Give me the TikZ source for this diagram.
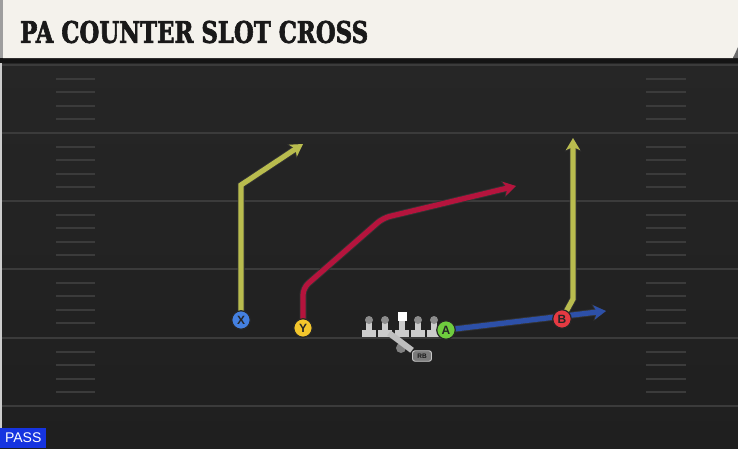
\documentclass[tikz,border=0pt]{standalone}
\usepackage{xcolor}
\usepackage{graphicx}
\usepackage{fontspec}
\newfontfamily\titlefont[FakeBold=2.5]{DejaVu Serif}
\newfontfamily\labelfont{Liberation Sans}
\definecolor{turf}{HTML}{262626}
\definecolor{turfdark}{HTML}{1F1F1F}
\definecolor{yardline}{HTML}{3B3B3B}
\definecolor{banner}{HTML}{F4F2EC}
\definecolor{routeolive}{HTML}{B9BC4E}
\definecolor{routecrimson}{HTML}{B5143D}
\definecolor{routeblue}{HTML}{2D50A8}
\definecolor{xblue}{HTML}{4480E0}
\definecolor{ygold}{HTML}{F3C62C}
\definecolor{agreen}{HTML}{6FCC3E}
\definecolor{bred}{HTML}{E53A42}
\definecolor{passblue}{HTML}{1634E0}
\usepackage{tikz}
\usetikzlibrary{arrows.meta, positioning}

\begin{document}
\begin{tikzpicture}[x=1pt, y=-1pt,
  player/.style={circle, draw=black!85, line width=1.2pt, minimum size=18.5pt, inner sep=0pt,
    font=\labelfont\bfseries\fontsize{12}{12}\selectfont, text=black!85},
  route/.style={line width=5.2pt, -{Stealth[length=12pt, width=14pt, inset=3pt]},
    preaction={draw=black!80, line width=7pt, -{Stealth[length=13.5pt, width=16.5pt, inset=3.5pt]}}},
  lineman/.style={fill=black!20},
  linehead/.style={fill=black!45}]
  \useasboundingbox (0,0) rectangle (738,448);

  % Field and yard lines
  \fill[top color=turf, bottom color=turfdark] (0,60) rectangle (738,448);
  \foreach \y in {65,133,201,269,338,406}
    \draw[yardline, line width=2pt] (0,\y) -- (738,\y);
  \foreach \y in {65,133,201,269,338}
    \foreach \k in {1,...,4} {
      \draw[yardline, line width=2pt] (56,\y+13.6*\k) -- (95,\y+13.6*\k);
      \draw[yardline, line width=2pt] (646,\y+13.6*\k) -- (686,\y+13.6*\k);
    }
  \draw[black!20, line width=1.5pt] (1,60) -- (1,448);

  % Title banner
  \fill[black!92] (0,56) rectangle (738,63);
  \fill[banner] (3,0) -- (738,0) -- (738,47) -- (733,58) -- (3,58) -- cycle;
  \fill[black!58] (738,47) -- (738,58) -- (733,58) -- cycle;
  \fill[black!38] (0,0) rectangle (3,58);
  \node[anchor=west, inner sep=0pt, text=black!90] (title) at (20,32)
    {\resizebox{348pt}{22pt}{\titlefont\bfseries PA COUNTER SLOT CROSS}};

  % Player spots
  \coordinate (xspot) at (241,320);
  \coordinate (yspot) at (303,328);
  \coordinate (aspot) at (446,330);
  \coordinate (bspot) at (562,319);

  % Routes
  \coordinate (xbreak) at (241,185);
  \coordinate (xend) at (303,144);
  \draw[route, routeolive] (xspot) -- (xbreak) -- (xend);
  \coordinate (ybreak) at (303,288);
  \coordinate (ybend) at (383,218);
  \coordinate (yend) at (516,186);
  \draw[route, routecrimson, rounded corners=7pt] (yspot) -- (ybreak) -- (ybend) -- (yend);
  \coordinate (aend) at (606,311);
  \draw[route, routeblue] (aspot) -- (aend);
  \coordinate (bbreak) at (573,299);
  \coordinate (bend) at (573,138);
  \draw[route, routeolive] (bspot) -- (bbreak) -- (bend);

  % Offensive line
  \foreach \lx in {369,385,402,418,434} {
    \fill[lineman] (\lx-7,330) rectangle (\lx+7,337);
    \fill[lineman] (\lx-3,320) rectangle (\lx+3,331);
  }
  \foreach \lx in {369,385,418,434}
    \fill[linehead] (\lx,320) circle (4pt);
  \fill[white] (397.5,312) rectangle (406.5,321);

  % Running back
  \node[circle, fill=black!50, minimum size=10pt, inner sep=0pt] (qb) at (401,348) {};
  \node[draw=black!22, fill=black!52, line width=0.9pt, rounded corners=2.5pt, minimum width=19pt,
    minimum height=10.5pt, inner sep=0pt, font=\labelfont\bfseries\fontsize{6.5}{6.5}\selectfont,
    text=black!90] (rb) at (422,356) {RB};
  \coordinate (handoff) at (389,333);
  \draw[black!25, line width=6pt] (handoff) -- (rb.north west);

  % Receivers
  \node[player, fill=xblue] (x) at (xspot) {X};
  \node[player, fill=ygold] (y) at (yspot) {Y};
  \node[player, fill=agreen] (a) at (aspot) {A};
  \node[player, fill=bred] (b) at (bspot) {B};

  % Play type
  \node[anchor=south west, fill=passblue, text=white, minimum width=46pt, minimum height=20pt,
    inner sep=0pt, font=\labelfont\fontsize{14}{14}\selectfont] (pass) at (0,448) {PASS};
\end{tikzpicture}
\end{document}
